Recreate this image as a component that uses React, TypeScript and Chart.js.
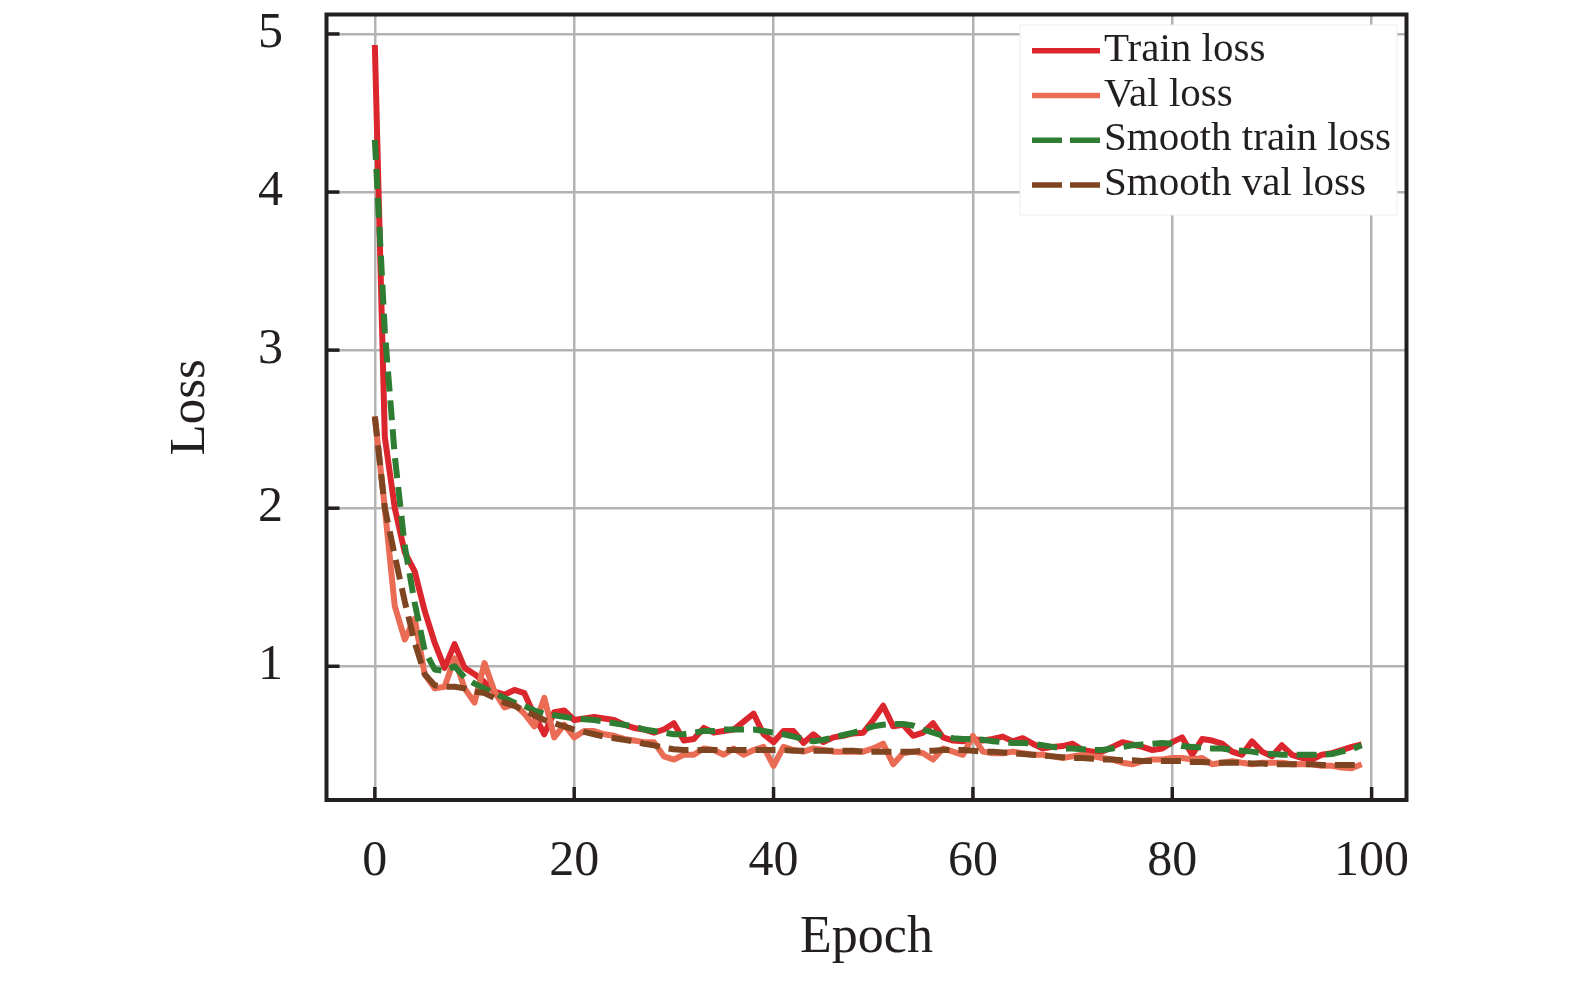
import { useEffect, useRef } from "react";
import { Chart, registerables } from "chart.js";

Chart.register(...registerables);

// epochs 0..99
const EPOCHS = Array.from({ length: 100 }, (_, i) => i);

const TRAIN_LOSS = [
  4.93, 2.45, 2.0, 1.72, 1.6, 1.35, 1.15, 0.99, 1.14, 0.99,
  0.95, 0.9, 0.84, 0.82, 0.85, 0.83, 0.69, 0.57, 0.71, 0.72,
  0.66, 0.67, 0.68, 0.67, 0.66, 0.63, 0.61, 0.6, 0.58, 0.6,
  0.64, 0.53, 0.54, 0.61, 0.58, 0.59, 0.6, 0.65, 0.7, 0.57,
  0.52, 0.59, 0.59, 0.515, 0.57, 0.52, 0.55, 0.56, 0.575, 0.58,
  0.66, 0.75, 0.62, 0.63, 0.56, 0.58, 0.64, 0.55, 0.53, 0.525,
  0.54, 0.53, 0.54, 0.555, 0.525, 0.545, 0.51, 0.48, 0.49, 0.495,
  0.51, 0.47, 0.46, 0.46, 0.49, 0.52, 0.505, 0.49, 0.47, 0.48,
  0.52, 0.55, 0.44, 0.54, 0.53, 0.51, 0.46, 0.44, 0.525, 0.46,
  0.43, 0.5, 0.44, 0.42, 0.41, 0.44, 0.45, 0.47, 0.49, 0.505,
];

const VAL_LOSS = [
  2.58, 2.0, 1.38, 1.17, 1.3, 0.95, 0.86, 0.87, 1.05, 0.86,
  0.77, 1.02, 0.84, 0.74, 0.76, 0.7, 0.62, 0.8, 0.55, 0.63,
  0.55, 0.59, 0.59, 0.57, 0.56, 0.54, 0.53, 0.52, 0.52, 0.43,
  0.41, 0.44, 0.44, 0.48, 0.47, 0.44, 0.48, 0.44, 0.47, 0.49,
  0.37, 0.49, 0.47, 0.46, 0.48, 0.47, 0.46, 0.46, 0.46, 0.46,
  0.48, 0.51, 0.38, 0.45, 0.46, 0.45, 0.41, 0.48, 0.46, 0.44,
  0.56, 0.46, 0.45, 0.45, 0.46, 0.45, 0.44, 0.44, 0.43, 0.42,
  0.43, 0.44, 0.43, 0.42, 0.41, 0.39, 0.38, 0.4, 0.41, 0.41,
  0.42, 0.42, 0.41, 0.42, 0.38, 0.39, 0.4, 0.39, 0.38, 0.39,
  0.39, 0.39, 0.38, 0.38, 0.38, 0.37, 0.37, 0.36, 0.355, 0.38,
];

const SMOOTH_TRAIN = [
  4.33, 3.12, 2.33, 1.76, 1.4, 1.1, 0.98, 0.97, 1.0, 0.93,
  0.89, 0.86, 0.83, 0.8, 0.77, 0.75, 0.72, 0.7, 0.69, 0.68,
  0.67, 0.665, 0.66, 0.65, 0.64, 0.63, 0.62, 0.6, 0.59, 0.58,
  0.57, 0.57, 0.58, 0.59, 0.59, 0.6, 0.6, 0.6, 0.6, 0.59,
  0.58, 0.57, 0.555, 0.54, 0.525, 0.535, 0.55, 0.565, 0.58, 0.6,
  0.62, 0.63, 0.635, 0.635, 0.625, 0.6, 0.58, 0.56, 0.545, 0.54,
  0.54, 0.535, 0.525, 0.52, 0.515, 0.515, 0.51, 0.5, 0.49, 0.48,
  0.48, 0.475, 0.47, 0.47, 0.48, 0.49, 0.5, 0.505, 0.51, 0.515,
  0.51, 0.495, 0.49, 0.485, 0.48, 0.48, 0.47, 0.465, 0.46, 0.45,
  0.445, 0.44, 0.44, 0.44, 0.44, 0.44, 0.445, 0.46, 0.475, 0.5,
];

const SMOOTH_VAL = [
  2.58, 2.0, 1.7, 1.41, 1.15, 0.95, 0.88, 0.87, 0.87, 0.86,
  0.84, 0.83, 0.8, 0.77, 0.75, 0.72, 0.69, 0.66, 0.64, 0.62,
  0.6, 0.585, 0.57, 0.555, 0.545, 0.535, 0.525, 0.51, 0.5, 0.485,
  0.475, 0.47, 0.47, 0.47, 0.47, 0.47, 0.47, 0.47, 0.47, 0.47,
  0.47, 0.47, 0.465, 0.465, 0.465, 0.465, 0.465, 0.465, 0.465, 0.46,
  0.46, 0.46, 0.46, 0.46, 0.46, 0.465, 0.465, 0.47, 0.47, 0.47,
  0.465, 0.46, 0.46, 0.455, 0.45, 0.445, 0.44, 0.435, 0.43, 0.425,
  0.42, 0.42, 0.415, 0.41, 0.41, 0.405, 0.405, 0.4, 0.4, 0.4,
  0.4, 0.4, 0.395, 0.395, 0.39, 0.39, 0.39, 0.39, 0.385, 0.385,
  0.38, 0.38, 0.38, 0.38, 0.38, 0.375, 0.375, 0.375, 0.375, 0.375,
];

const X_TICKS = [0, 20, 40, 60, 80, 100];
const Y_TICKS = [1, 2, 3, 4, 5];

const SERIF = "'Liberation Serif', 'Times New Roman', serif";
const INK = "#231f20";

// inward tick marks, black frame and a boxed legend in the upper right
const frameAndLegend = {
  id: "frameAndLegend",
  afterDraw(chart: Chart) {
    const { ctx, chartArea: a, scales } = chart;
    ctx.save();
    ctx.strokeStyle = INK;
    ctx.lineWidth = 3.5;
    X_TICKS.forEach(v => {
      const px = scales.x.getPixelForValue(v);
      ctx.beginPath();
      ctx.moveTo(px, a.bottom);
      ctx.lineTo(px, a.bottom - 13);
      ctx.stroke();
    });
    Y_TICKS.forEach(v => {
      const py = scales.y.getPixelForValue(v);
      ctx.beginPath();
      ctx.moveTo(a.left, py);
      ctx.lineTo(a.left + 13, py);
      ctx.stroke();
    });
    ctx.lineWidth = 4;
    ctx.strokeRect(a.left, a.top, a.right - a.left, a.bottom - a.top);

    // legend
    const boxR = a.right - 9.5;
    const boxL = boxR - 377;
    const boxT = a.top + 10.5;
    const boxB = boxT + 190;
    ctx.fillStyle = "#ffffff";
    ctx.strokeStyle = "#eeeeee";
    ctx.lineWidth = 1;
    ctx.fillRect(boxL, boxT, boxR - boxL, boxB - boxT);
    ctx.strokeRect(boxL, boxT, boxR - boxL, boxB - boxT);

    ctx.font = `41px ${SERIF}`;
    ctx.textBaseline = "alphabetic";
    ctx.textAlign = "left";
    chart.data.datasets.forEach((ds: any, i: number) => {
      const rowY = boxT + 25.7 + i * 44.8;
      ctx.strokeStyle = ds.borderColor;
      ctx.lineWidth = 5.5;
      ctx.setLineDash(ds.borderDash ? [30, 8] : []);
      ctx.beginPath();
      ctx.moveTo(boxL + 12, rowY);
      ctx.lineTo(boxL + 80, rowY);
      ctx.stroke();
      ctx.setLineDash([]);
      ctx.fillStyle = INK;
      ctx.fillText(ds.label, boxL + 84, rowY + 10);
    });
    ctx.restore();
  },
};

export default function App() {
  const canvasRef = useRef<HTMLCanvasElement>(null);
  const chartRef = useRef<Chart | null>(null);

  useEffect(() => {
    if (!canvasRef.current) return;
    if (chartRef.current) chartRef.current.destroy();

    const toPoints = (vals: number[]) => vals.map((y, i) => ({ x: EPOCHS[i], y }));
    const common = { pointRadius: 0, tension: 0, fill: false, borderCapStyle: "butt", borderJoinStyle: "round" };

    chartRef.current = new Chart(canvasRef.current, {
      type: "line",
      data: {
        datasets: [
          { ...common, label: "Train loss", data: toPoints(TRAIN_LOSS), borderColor: "#dc262d", borderWidth: 6, order: 3 },
          { ...common, label: "Val loss", data: toPoints(VAL_LOSS), borderColor: "#ea6c55", borderWidth: 6, order: 2 },
          { ...common, label: "Smooth train loss", data: toPoints(SMOOTH_TRAIN), borderColor: "#2e7d32", borderWidth: 6, borderDash: [20, 9], order: 1 },
          { ...common, label: "Smooth val loss", data: toPoints(SMOOTH_VAL), borderColor: "#7f4420", borderWidth: 6, borderDash: [20, 9], order: 0 },
        ] as any,
      },
      options: {
        animation: false,
        responsive: true,
        maintainAspectRatio: false,
        layout: { padding: { left: 165, top: 14.5, right: 168.5, bottom: 0 } },
        scales: {
          x: {
            type: "linear",
            min: -4.85,
            max: 103.5,
            afterFit: (s: any) => { s.height = 182; s.paddingLeft = 0; s.paddingRight = 0; },
            grid: { color: "#b3b3b3", lineWidth: 2.5, drawTicks: false },
            border: { display: false },
            ticks: {
              stepSize: 20,
              includeBounds: false,
              maxRotation: 0,
              autoSkip: false,
              padding: 37,
              color: INK,
              font: { family: SERIF, size: 50, lineHeight: 1 },
            },
            title: {
              display: true,
              text: "Epoch",
              color: INK,
              padding: { top: 0, bottom: 18 },
              font: { family: SERIF, size: 52, lineHeight: 1 },
            },
          },
          y: {
            type: "linear",
            min: 0.154,
            max: 5.123,
            afterFit: (s: any) => { s.width = 161.5; s.paddingTop = 0; s.paddingBottom = 0; },
            grid: { color: "#b3b3b3", lineWidth: 2.5, drawTicks: false },
            border: { display: false },
            ticks: {
              stepSize: 1,
              includeBounds: false,
              padding: 43.5,
              color: INK,
              font: { family: SERIF, size: 50, lineHeight: 1 },
            },
            title: {
              display: true,
              text: "Loss",
              color: INK,
              padding: { top: 0, bottom: 0 },
              font: { family: SERIF, size: 51, lineHeight: 1 },
            },
          },
        },
        plugins: {
          legend: { display: false },
          tooltip: { enabled: false },
        },
      },
      plugins: [frameAndLegend],
    });

    return () => { chartRef.current?.destroy(); };
  }, []);

  return (
    <div style={{ position: "fixed", left: 0, top: 0, width: 1575, height: 982, background: "#fff" }}>
      <canvas ref={canvasRef} />
    </div>
  );
}
